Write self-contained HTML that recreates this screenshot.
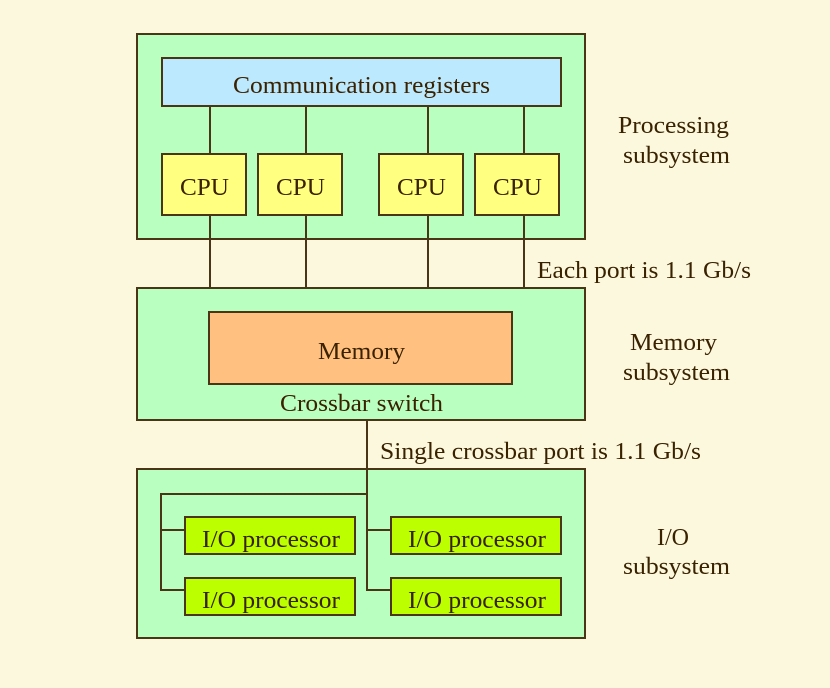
<!DOCTYPE html>
<html><head><meta charset="utf-8"><style>
html,body{margin:0;padding:0;background:#FBF8DE;}
svg{display:block}
text{font-family:"Liberation Serif",serif;font-size:24px;fill:#3a2200;text-anchor:middle;dominant-baseline:central}
</style></head><body>
<svg width="830" height="688" viewBox="0 0 830 688" xmlns="http://www.w3.org/2000/svg">
<rect width="830" height="688" fill="#FBF8DE"/>
<g stroke="#4a3616" stroke-width="2">
<rect x="137" y="34" width="448" height="205" fill="#B8FFC0"/>
<rect x="137" y="288" width="448" height="132" fill="#B8FFC0"/>
<rect x="137" y="469" width="448" height="169" fill="#B8FFC0"/>
<line x1="210" y1="106" x2="210" y2="288"/>
<line x1="306" y1="106" x2="306" y2="288"/>
<line x1="428" y1="106" x2="428" y2="288"/>
<line x1="524" y1="106" x2="524" y2="288"/>
<rect x="162" y="58" width="399" height="48" fill="#BDE9FF"/>
<rect x="162" y="154" width="84" height="61" fill="#FFFF80"/>
<rect x="258" y="154" width="84" height="61" fill="#FFFF80"/>
<rect x="379" y="154" width="84" height="61" fill="#FFFF80"/>
<rect x="475" y="154" width="84" height="61" fill="#FFFF80"/>
<rect x="209" y="312" width="303" height="72" fill="#FFC080"/>
<polyline fill="none" points="367,420 367,590 391,590"/>
<line x1="367" y1="530" x2="391" y2="530"/>
<polyline fill="none" points="367,494 161,494 161,590 185,590"/>
<line x1="161" y1="530" x2="185" y2="530"/>
<rect x="185" y="517" width="170" height="37" fill="#BBFF00"/>
<rect x="185" y="578" width="170" height="37" fill="#BBFF00"/>
<rect x="391" y="517" width="170" height="37" fill="#BBFF00"/>
<rect x="391" y="578" width="170" height="37" fill="#BBFF00"/>
</g>
<g>
<text x="361.5" y="86" textLength="257" lengthAdjust="spacingAndGlyphs">Communication registers</text>
<text x="204.5" y="188" textLength="49" lengthAdjust="spacingAndGlyphs">CPU</text>
<text x="300.5" y="188" textLength="49" lengthAdjust="spacingAndGlyphs">CPU</text>
<text x="421.5" y="188" textLength="49" lengthAdjust="spacingAndGlyphs">CPU</text>
<text x="517.5" y="188" textLength="49" lengthAdjust="spacingAndGlyphs">CPU</text>
<text x="361.5" y="352" textLength="87" lengthAdjust="spacingAndGlyphs">Memory</text>
<text x="361.5" y="404" textLength="163" lengthAdjust="spacingAndGlyphs">Crossbar switch</text>
<text x="271" y="540" textLength="138" lengthAdjust="spacingAndGlyphs">I/O processor</text>
<text x="271" y="601" textLength="138" lengthAdjust="spacingAndGlyphs">I/O processor</text>
<text x="477" y="540" textLength="138" lengthAdjust="spacingAndGlyphs">I/O processor</text>
<text x="477" y="601" textLength="138" lengthAdjust="spacingAndGlyphs">I/O processor</text>
<text x="673.5" y="126" textLength="111" lengthAdjust="spacingAndGlyphs">Processing</text>
<text x="676.5" y="156" textLength="107" lengthAdjust="spacingAndGlyphs">subsystem</text>
<text x="644" y="271" textLength="214" lengthAdjust="spacingAndGlyphs">Each port is 1.1 Gb/s</text>
<text x="673.5" y="343" textLength="87" lengthAdjust="spacingAndGlyphs">Memory</text>
<text x="676.5" y="373" textLength="107" lengthAdjust="spacingAndGlyphs">subsystem</text>
<text x="540.5" y="452" textLength="321" lengthAdjust="spacingAndGlyphs">Single crossbar port is 1.1 Gb/s</text>
<text x="673" y="538" textLength="32" lengthAdjust="spacingAndGlyphs">I/O</text>
<text x="676.5" y="567" textLength="107" lengthAdjust="spacingAndGlyphs">subsystem</text>
</g>
</svg>
</body></html>
